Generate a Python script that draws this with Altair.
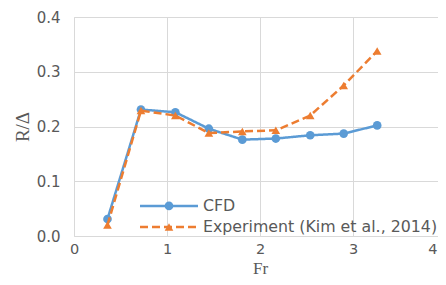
import altair as alt
import pandas as pd

fr = [0.36, 0.72, 1.09, 1.45, 1.81, 2.17, 2.54, 2.90, 3.26]
cfd = [0.031, 0.231, 0.226, 0.196, 0.176, 0.178, 0.184, 0.187, 0.202]
exp = [0.020, 0.229, 0.220, 0.188, 0.191, 0.193, 0.220, 0.275, 0.338]
series_names = ["CFD", "Experiment (Kim et al., 2014)"]
colors = ["#5B9BD5", "#ED7D31"]
x_ticks = [0, 1, 2, 3, 4]
y_ticks = [0.0, 0.1, 0.2, 0.3, 0.4]

# marker legend uses a copy of the names (trailing space keeps its legend separate)
marker_names = [n + " " for n in series_names]

rows = []
for name, mname, vals in zip(series_names, marker_names, [cfd, exp]):
    for f, r in zip(fr, vals):
        rows.append({"Fr": f, "R": r, "series": name, "series2": mname})
df = pd.DataFrame(rows)

grey = "#595959"
x_enc = alt.X("Fr:Q", scale=alt.Scale(domain=[0, 4], nice=False),
              axis=alt.Axis(values=x_ticks, title="Fr", grid=True, gridColor="#d9d9d9",
                            domain=False, ticks=False, tickSize=0, labelPadding=6,
                            labelAlign=alt.condition("datum.value == 4",
                                                     alt.value("right"), alt.value("center")),
                            labelOffset=alt.condition("datum.value == 4",
                                                      alt.value(-9), alt.value(0)),
                            labelFont="DejaVu Sans", labelFontSize=14.5, labelColor=grey,
                            titleFont="Liberation Serif", titleFontSize=17,
                            titleFontWeight="normal", titleColor=grey,
                            titleY=41, titleBaseline="bottom"))
y_enc = alt.Y("R:Q", scale=alt.Scale(domain=[0, 0.4], nice=False),
              axis=alt.Axis(values=y_ticks, format=".1f", title="R/Δ", grid=True,
                            gridColor="#d9d9d9", domain=False, ticks=False, tickSize=0,
                            labelPadding=14, labelFont="DejaVu Sans", labelFontSize=15,
                            labelColor=grey, titleFont="Liberation Serif", titleFontSize=19,
                            titleFontWeight="normal", titleColor=grey, titlePadding=4))

leg_common = dict(orient="none", legendX=87.1, legendY=181, title=None, padding=0,
                  labelFont="DejaVu Sans", labelFontSize=15.8, labelColor=grey,
                  labelOffset=26.1, rowPadding=4, labelLimit=0)

line_leg = alt.Legend(symbolType="M-5.8,0H5.8", symbolSize=100, symbolStrokeWidth=2.5,
                      **leg_common)
mark_leg = alt.Legend(symbolSize=75, symbolStrokeWidth=0, labelOpacity=0, **leg_common)

color_enc = alt.Color("series:N", scale=alt.Scale(domain=series_names, range=colors),
                      legend=line_leg)
dash_enc = alt.StrokeDash("series:N",
                          scale=alt.Scale(domain=series_names, range=[[1, 0], [8, 4]]),
                          legend=line_leg)
fill_enc = alt.Fill("series2:N", scale=alt.Scale(domain=marker_names, range=colors),
                    legend=mark_leg)
shape_enc = alt.Shape("series2:N",
                      scale=alt.Scale(domain=marker_names, range=["circle", "triangle-up"]),
                      legend=mark_leg)

base = alt.Chart(df)
layers = []
for name in series_names:
    sub = base.transform_filter(alt.datum.series == name)
    layers.append(sub.mark_line(strokeWidth=2.5).encode(
        x=x_enc, y=y_enc, color=color_enc, strokeDash=dash_enc))
    layers.append(sub.mark_point(filled=True, size=75, opacity=1, strokeWidth=0).encode(
        x=x_enc, y=y_enc, fill=fill_enc, shape=shape_enc))

chart = alt.layer(*layers).properties(
    width=372, height=219, autosize="none",
    padding={"left": 66, "top": 9, "right": -8, "bottom": 41},
).configure_view(stroke=None).configure(background="white")

chart.save("out.html", embed_options={"renderer": "svg", "actions": False})
